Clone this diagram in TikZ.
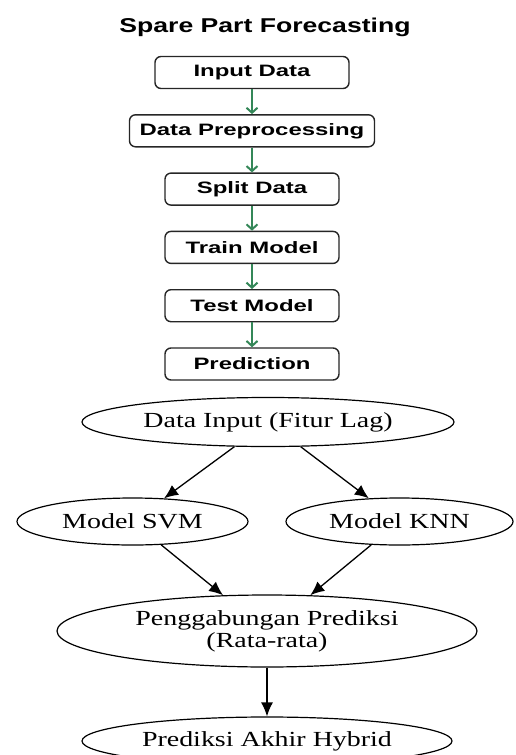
\documentclass[tikz,border=0pt]{standalone}
\usepackage{fontspec}
\usepackage{tikz}
\usetikzlibrary{shapes.geometric, arrows, arrows.meta}
\newfontfamily\titlefont[FakeStretch=1.33]{Liberation Sans}
\newfontfamily\boxfont[FakeStretch=1.45]{Liberation Sans}
\newfontfamily\ovalfont[FakeStretch=1.3]{Liberation Serif}
\definecolor{flowgreen}{RGB}{52,135,88}
\tikzstyle{stepbox} = [rectangle, rounded corners=6pt, minimum width=174pt, minimum height=32pt, text centered, draw=black!85, line width=1.4pt, fill=white, font=\boxfont\bfseries\fontsize{16.5}{18}\selectfont]
\tikzstyle{oval} = [ellipse, draw=black, line width=1.2pt, inner sep=0pt, align=center, font=\ovalfont\fontsize{21.5}{22}\selectfont]
\tikzstyle{greenarrow} = [flowgreen, line width=2pt, -{Straight Barb[length=5pt,width=11pt]}]
\tikzstyle{arrow} = [line width=1.3pt, -{Latex[length=14pt,width=12pt]}]

\begin{document}
\begin{tikzpicture}[x=1pt, y=1pt, node distance=58.3pt]
\useasboundingbox (0,0) rectangle (515,-755);

\node (t) at (265,-27) [font=\titlefont\bfseries\fontsize{20}{24}\selectfont] {Spare Part Forecasting};

\node (0) [stepbox, minimum width=194pt] at (252,-72.5) {Input Data};

\node (1) [stepbox, minimum width=245pt, below of=0] {Data Preprocessing};

\node (2) [stepbox, below of=1] {Split Data};

\node (3) [stepbox, below of=2] {Train Model};

\node (4) [stepbox, below of=3] {Test Model};

\node (5) [stepbox, below of=4] {Prediction};

\node (6) [oval, minimum width=372pt, minimum height=49pt] at (268,-422) {Data Input (Fitur Lag)};

\node (7a) [oval, minimum width=231pt, minimum height=47pt] at (132.5,-521.5) {Model SVM};

\node (7b) [oval, minimum width=227pt, minimum height=47pt] at (399.5,-521.5) {Model KNN};

\node (8) [oval, minimum width=420pt, minimum height=72pt] at (267,-631) {Penggabungan Prediksi\\(Rata-rata)};

\node (9) [oval, minimum width=370pt, minimum height=48pt] at (267,-741) {Prediksi Akhir Hybrid};

\draw [greenarrow] (0) -- (1);

\draw [greenarrow] (1) -- (2);

\draw [greenarrow] (2) -- (3);

\draw [greenarrow] (3) -- (4);

\draw [greenarrow] (4) -- (5);

\draw [arrow] (6) -- (7a);

\draw [arrow] (6) -- (7b);

\draw [arrow] (7a) -- (8);

\draw [arrow] (7b) -- (8);

\draw [arrow] (8) -- (9);

\end{tikzpicture}
\end{document}
